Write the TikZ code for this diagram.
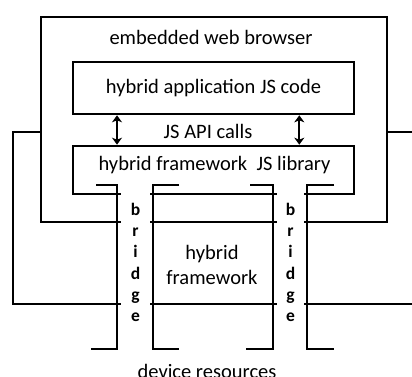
\documentclass[tikz,border=0pt]{standalone}
\usepackage{fontspec}
\setmainfont{Carlito}
\usetikzlibrary{arrows.meta, positioning}
\tikzset{
  every picture/.style={line width=2pt, x=1pt, y=1pt},
  box/.style={draw, minimum width=281pt, inner sep=0pt},
  frame/.style={draw, inner sep=0pt},
  gap/.style={fill=white, inner sep=0pt, minimum height=140pt, align=center, font=\bfseries\fontsize{17.5}{21.2}\selectfont},
  call/.style={{Stealth[length=7pt, width=10pt, inset=2pt]}-{Stealth[length=7pt, width=10pt, inset=2pt]}},
}

\begin{document}
\begin{tikzpicture}[font=\fontsize{20.5}{24.6}\selectfont]
  \useasboundingbox (0,0) rectangle (412,376);
  \clip (0,0) rectangle (412,376);
  % outer box runs off to the right
  \node[frame, anchor=south west, minimum width=430pt, minimum height=172.3pt] (dev) at (11.7,70.7) {};
  \node[frame, fill=white, minimum width=346pt, minimum height=204.7pt] (web) at (214,256.7) {};
  \node[anchor=base] (webtext) at (211,331.7) {embedded web browser};
  \node[box, minimum height=52.6pt] (app) at (213.5,288) {hybrid application JS code};
  \node[box, minimum height=48.6pt] (lib) at (213.5,206) {};
  \node[anchor=base] (libtext) at (214.5,206) {hybrid framework\ \ JS library};
  \node[anchor=base] (api) at (208,237.7) {JS API calls};
  \draw[call] ([xshift=-96.5pt]app.south) -- ([xshift=-96.5pt]lib.north);
  \draw[call] ([xshift=85.8pt]app.south) -- ([xshift=85.8pt]lib.north);
  % bridges cut through the horizontal lines
  \node[gap, minimum width=29pt] (bridgeL) at (135.5,113.5) {b\\r\\i\\d\\g\\e};
  \node[gap, minimum width=27pt] (bridgeR) at (290.5,113.5) {b\\r\\i\\d\\g\\e};
  \draw (96,190.7) -| (117,26.7) -- (91,26.7);
  \draw (179,190.7) -| (153,26.7) -- (179,26.7);
  \draw (250,190.7) -| (273,26.7) -- (246,26.7);
  \draw (334,190.7) -| (307,26.7) -- (334,26.7);
  \node[align=center] (fw) at (212,111) {hybrid\\framework};
  \node[anchor=base] (devtext) at (207,-2.5) {device resources};
\end{tikzpicture}
\end{document}
